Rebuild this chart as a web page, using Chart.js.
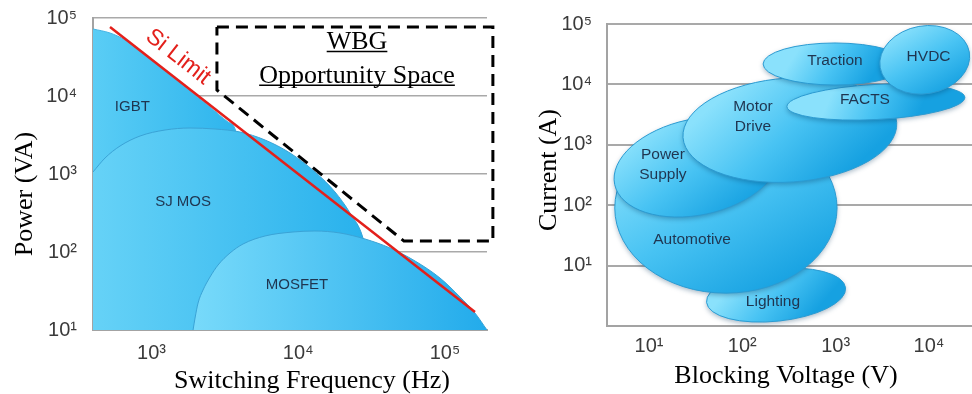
<!DOCTYPE html>
<html><head><meta charset="utf-8">
<script src="https://cdn.jsdelivr.net/npm/chart.js@4.4.1/dist/chart.umd.min.js"></script>
<style>
html,body{margin:0;padding:0;background:#fff;overflow:hidden}
#wrap{position:relative;width:972px;height:394px}
canvas{position:absolute;top:0}
#c1{left:0}
#c2{left:500px}
</style></head><body>
<div id="wrap"><canvas id="c1" width="500" height="394"></canvas><canvas id="c2" width="472" height="394"></canvas></div>
<script>
// ================= LEFT CHART DATA (frequency Hz, power VA) =================
const leftTicksX = [1e3, 1e4, 1e5];
const leftTicksY = [1e1, 1e2, 1e3, 1e4, 1e5];
const igbtF = [399, 521, 660, 835, 1143, 1692, 2503, 3321, 3766, 4010];
const igbtP = [72300, 64220, 52240, 37750, 23540, 13050, 7228, 4642, 3455, 1125];
const sjF = [399, 482, 610, 835, 1236, 1830, 2709, 4010, 5935, 8785, 13005, 17800, 22520, 27620, 29880];
const sjP = [1061, 1604, 2286, 3070, 3665, 3887, 3775, 3455, 2728, 1859, 1061, 588, 316, 151, 74];
const mosF = [1918, 1979, 2075, 2244, 2503, 2840, 3426, 4202, 5935, 9209, 13005, 19250, 28500, 42200, 62470, 92450, 126600, 160100, 193300];
const mosP = [10, 14.25, 22.2, 32.6, 47.8, 68.1, 97.1, 126.6, 160.4, 180.5, 185.9, 175.3, 146.8, 112.5, 76.7, 46.4, 26.5, 16.5, 10];
const siLimitF = [521, 160100];
const siLimitP = [76650, 17.0];
const wbgF = [2790, 212000, 212000, 52500, 2790, 2790];
const wbgP = [76650, 76650, 138, 138, 11940, 76650];
const leftLabels = ['IGBT', 'SJ MOS', 'MOSFET'];
const leftLabelF = [740, 1640, 9800];
const leftLabelP = [7228, 440, 37.8];
const siLabelF = 1516, siLabelP = 31620;
const wbgLines = ['WBG', 'Opportunity Space'];
const wbgLabelF = 25140;
const wbgLabelP = [40000, 14800];

// ================= RIGHT CHART DATA (blocking voltage V, current A) =================
const rightTicksX = [1e1, 1e2, 1e3, 1e4];
const rightTicksY = [1e1, 1e2, 1e3, 1e4, 1e5];
const appNames = ['Lighting', 'Automotive', 'Power\nSupply', 'Motor\nDrive', 'FACTS', 'Traction', 'HVDC'];
const appVmin = [41, 4.3, 4.1, 23, 300, 167, 2950];
const appVmax = [1290, 1035, 260, 4540, 24300, 5800, 27500];
const appImin = [1.2, 3.5, 69, 242, 2620, 9770, 7000];
const appImax = [8.8, 2310, 2670, 12760, 9980, 48500, 93000];
const appLabelV = [213, 28.9, 14.1, 130, 2061, 984, 9900];
const appLabelI = [2.5, 26.5, 463, 2886, 5520, 24400, 28420];
const appTilt = [-6, 0, -12, -4, -3, 0, -10];   // style: drawn tilt in degrees

// ================= helpers =================
const SUP = ['⁰','¹','²','³','⁴','⁵','⁶'];
const decadeLabel = v => '10' + SUP[Math.round(Math.log10(v))];
const toPts = (xs, ys) => xs.map((x, i) => ({x, y: ys[i]}));
const SANS = '"Liberation Sans", Arial, sans-serif';
const SERIF = '"Liberation Serif", "Times New Roman", serif';
const GRID = '#a9a9a9';

function regionFill(light, dark) {
  return ctx => {
    const ch = ctx.chart;
    if (!ch.chartArea) return light;
    const xs = ch.scales.x, d = ctx.dataset.data;
    const x0 = xs.getPixelForValue(d[0].x), x1 = xs.getPixelForValue(d[d.length - 1].x);
    const g = ch.ctx.createLinearGradient(x0, 0, x1, 0);
    g.addColorStop(0, light); g.addColorStop(1, dark);
    return g;
  };
}

function logAxis(min, max, ticks, pad, opts) {
  return Object.assign({
    type: 'logarithmic', min, max,
    afterBuildTicks: s => { s.ticks = ticks.map(v => ({value: v})); },
    ticks: {callback: v => decadeLabel(v), autoSkip: false, maxRotation: 0, padding: pad,
            font: {family: SANS, size: 20}, color: '#3a3a3a'},
    border: {display: true, color: '#a3a3a3', width: 2},
  }, opts);
}

function underlineText(ctx, text, x, y) {
  ctx.fillText(text, x, y);
  const w = ctx.measureText(text).width;
  ctx.beginPath(); ctx.moveTo(x - w / 2, y + 2.5); ctx.lineTo(x + w / 2, y + 2.5);
  ctx.lineWidth = 1.5; ctx.strokeStyle = '#000'; ctx.stroke();
}

const fitY = w => s => { s.width = w; s.paddingTop = 0; s.paddingBottom = 0; };
const fitX = h => s => { s.height = h; s.paddingLeft = 0; s.paddingRight = 0; };

// ================= LEFT CHART =================
const leftDecor = {
  id: 'leftDecor',
  afterDatasetsDraw(chart) {
    const {ctx, scales: {x, y}} = chart;
    ctx.save();
    ctx.textAlign = 'center'; ctx.textBaseline = 'middle';
    ctx.fillStyle = '#1f3550'; ctx.font = '15px ' + SANS;
    leftLabels.forEach((t, i) => ctx.fillText(t, x.getPixelForValue(leftLabelF[i]), y.getPixelForValue(leftLabelP[i])));
    const ax = x.getPixelForValue(siLimitF[0]), ay = y.getPixelForValue(siLimitP[0]);
    const bx = x.getPixelForValue(siLimitF[1]), by = y.getPixelForValue(siLimitP[1]);
    ctx.save();
    ctx.translate(x.getPixelForValue(siLabelF), y.getPixelForValue(siLabelP));
    ctx.rotate(Math.atan2(by - ay, bx - ax));
    ctx.fillStyle = '#e3201b'; ctx.font = '23px ' + SANS;
    ctx.fillText('Si Limit', 0, 0);
    ctx.restore();
    ctx.fillStyle = '#000'; ctx.font = '26px ' + SERIF; ctx.textBaseline = 'alphabetic';
    wbgLines.forEach((t, i) => underlineText(ctx, t, x.getPixelForValue(wbgLabelF), y.getPixelForValue(wbgLabelP[i])));
    ctx.restore();
  },
  afterDraw(chart) {
    const ctx = chart.ctx;
    ctx.save();
    ctx.fillStyle = '#000'; ctx.font = '26px ' + SERIF;
    ctx.textAlign = 'center'; ctx.textBaseline = 'alphabetic';
    ctx.fillText('Switching Frequency (Hz)', 312, 388);
    ctx.translate(25, 194); ctx.rotate(-Math.PI / 2); ctx.textBaseline = 'middle';
    ctx.fillText('Power (VA)', 0, 0);
    ctx.restore();
  }
};

new Chart(document.getElementById('c1'), {
  type: 'line',
  data: {datasets: [
    {label: 'WBG Opportunity Space', data: toPts(wbgF, wbgP), borderColor: '#000', borderWidth: 3,
     borderDash: [12, 7], pointRadius: 0, fill: false, clip: false, tension: 0, order: -1},
    {label: 'Si Limit', data: toPts(siLimitF, siLimitP), borderColor: '#e3201b', borderWidth: 2.5,
     pointRadius: 0, fill: false, order: 0},
    {label: 'MOSFET', data: toPts(mosF, mosP), fill: 'start', backgroundColor: regionFill('#78dafa', '#22abeb'),
     borderColor: '#3aa3d6', borderWidth: 1, pointRadius: 0, cubicInterpolationMode: 'monotone', order: 1},
    {label: 'SJ MOS', data: toPts(sjF, sjP), fill: 'start', backgroundColor: regionFill('#66d2f7', '#28b1ec'),
     borderColor: '#3aa3d6', borderWidth: 1, pointRadius: 0, cubicInterpolationMode: 'monotone', order: 2},
    {label: 'IGBT', data: toPts(igbtF, igbtP), fill: 'start', backgroundColor: regionFill('#5acdf5', '#2db4ed'),
     borderColor: '#45b4e4', borderWidth: 1, pointRadius: 0, cubicInterpolationMode: 'monotone', order: 3},
  ]},
  options: {
    responsive: false, animation: false, devicePixelRatio: 1,
    layout: {padding: {top: 18, right: 13, left: 0, bottom: 0}},
    plugins: {legend: {display: false}, tooltip: {enabled: false}},
    scales: {
      x: logAxis(399, 193300, leftTicksX, 3, {afterFit: fitX(64), grid: {display: false}}),
      y: logAxis(10, 1e5, leftTicksY, 16, {afterFit: fitY(93), grid: {color: GRID, lineWidth: 1.5, drawTicks: false}}),
    }
  },
  plugins: [leftDecor]
});

// ================= RIGHT CHART =================
const ellipses = {
  id: 'ellipses',
  beforeDatasetsDraw(chart) {
    const {ctx, scales: {x, y}} = chart;
    appNames.forEach((n, i) => {
      const x1 = x.getPixelForValue(appVmin[i]), x2 = x.getPixelForValue(appVmax[i]);
      const y1 = y.getPixelForValue(appImax[i]), y2 = y.getPixelForValue(appImin[i]);
      const cx = (x1 + x2) / 2, cy = (y1 + y2) / 2, rx = (x2 - x1) / 2, ry = (y2 - y1) / 2;
      ctx.save();
      ctx.beginPath();
      ctx.ellipse(cx, cy, rx, ry, appTilt[i] * Math.PI / 180, 0, Math.PI * 2);
      const g = ctx.createLinearGradient(cx - rx * 0.45, cy - ry, cx + rx * 0.45, cy + ry);
      g.addColorStop(0, '#8ae1fc'); g.addColorStop(0.5, '#48c3f3'); g.addColorStop(1, '#16a1e1');
      ctx.shadowColor = 'rgba(0,50,90,0.35)'; ctx.shadowBlur = 5; ctx.shadowOffsetY = 2;
      ctx.fillStyle = g; ctx.fill();
      ctx.shadowColor = 'transparent';
      ctx.lineWidth = 1; ctx.strokeStyle = '#2b9bd2'; ctx.stroke();
      ctx.restore();
    });
    ctx.save();
    ctx.textAlign = 'center'; ctx.textBaseline = 'middle';
    ctx.fillStyle = '#1f3550'; ctx.font = '15.5px ' + SANS;
    appNames.forEach((n, i) => {
      const lines = n.split('\n');
      const px = x.getPixelForValue(appLabelV[i]), py = y.getPixelForValue(appLabelI[i]);
      lines.forEach((t, k) => ctx.fillText(t, px, py + (k - (lines.length - 1) / 2) * 20));
    });
    ctx.restore();
  },
  afterDraw(chart) {
    const ctx = chart.ctx;
    ctx.save();
    ctx.fillStyle = '#000'; ctx.font = '26px ' + SERIF;
    ctx.textAlign = 'center'; ctx.textBaseline = 'alphabetic';
    ctx.fillText('Blocking Voltage (V)', 286, 383);
    ctx.translate(49, 170); ctx.rotate(-Math.PI / 2); ctx.textBaseline = 'middle';
    ctx.fillText('Current (A)', 0, 0);
    ctx.restore();
  }
};

new Chart(document.getElementById('c2'), {
  type: 'scatter',
  data: {datasets: [
    {label: 'Applications', data: toPts(appLabelV, appLabelI), pointRadius: 0, showLine: false}
  ]},
  options: {
    responsive: false, animation: false, devicePixelRatio: 1,
    layout: {padding: {top: 24, right: 0, left: 0, bottom: 0}},
    plugins: {legend: {display: false}, tooltip: {enabled: false}},
    scales: {
      x: logAxis(3.55, 28900, rightTicksX, 0, {afterFit: fitX(68), grid: {display: false}}),
      y: logAxis(1, 1e5, rightTicksY, 15, {afterFit: fitY(107), grid: {color: GRID, lineWidth: 2, drawTicks: false}}),
    }
  },
  plugins: [ellipses]
});
</script>
</body></html>
